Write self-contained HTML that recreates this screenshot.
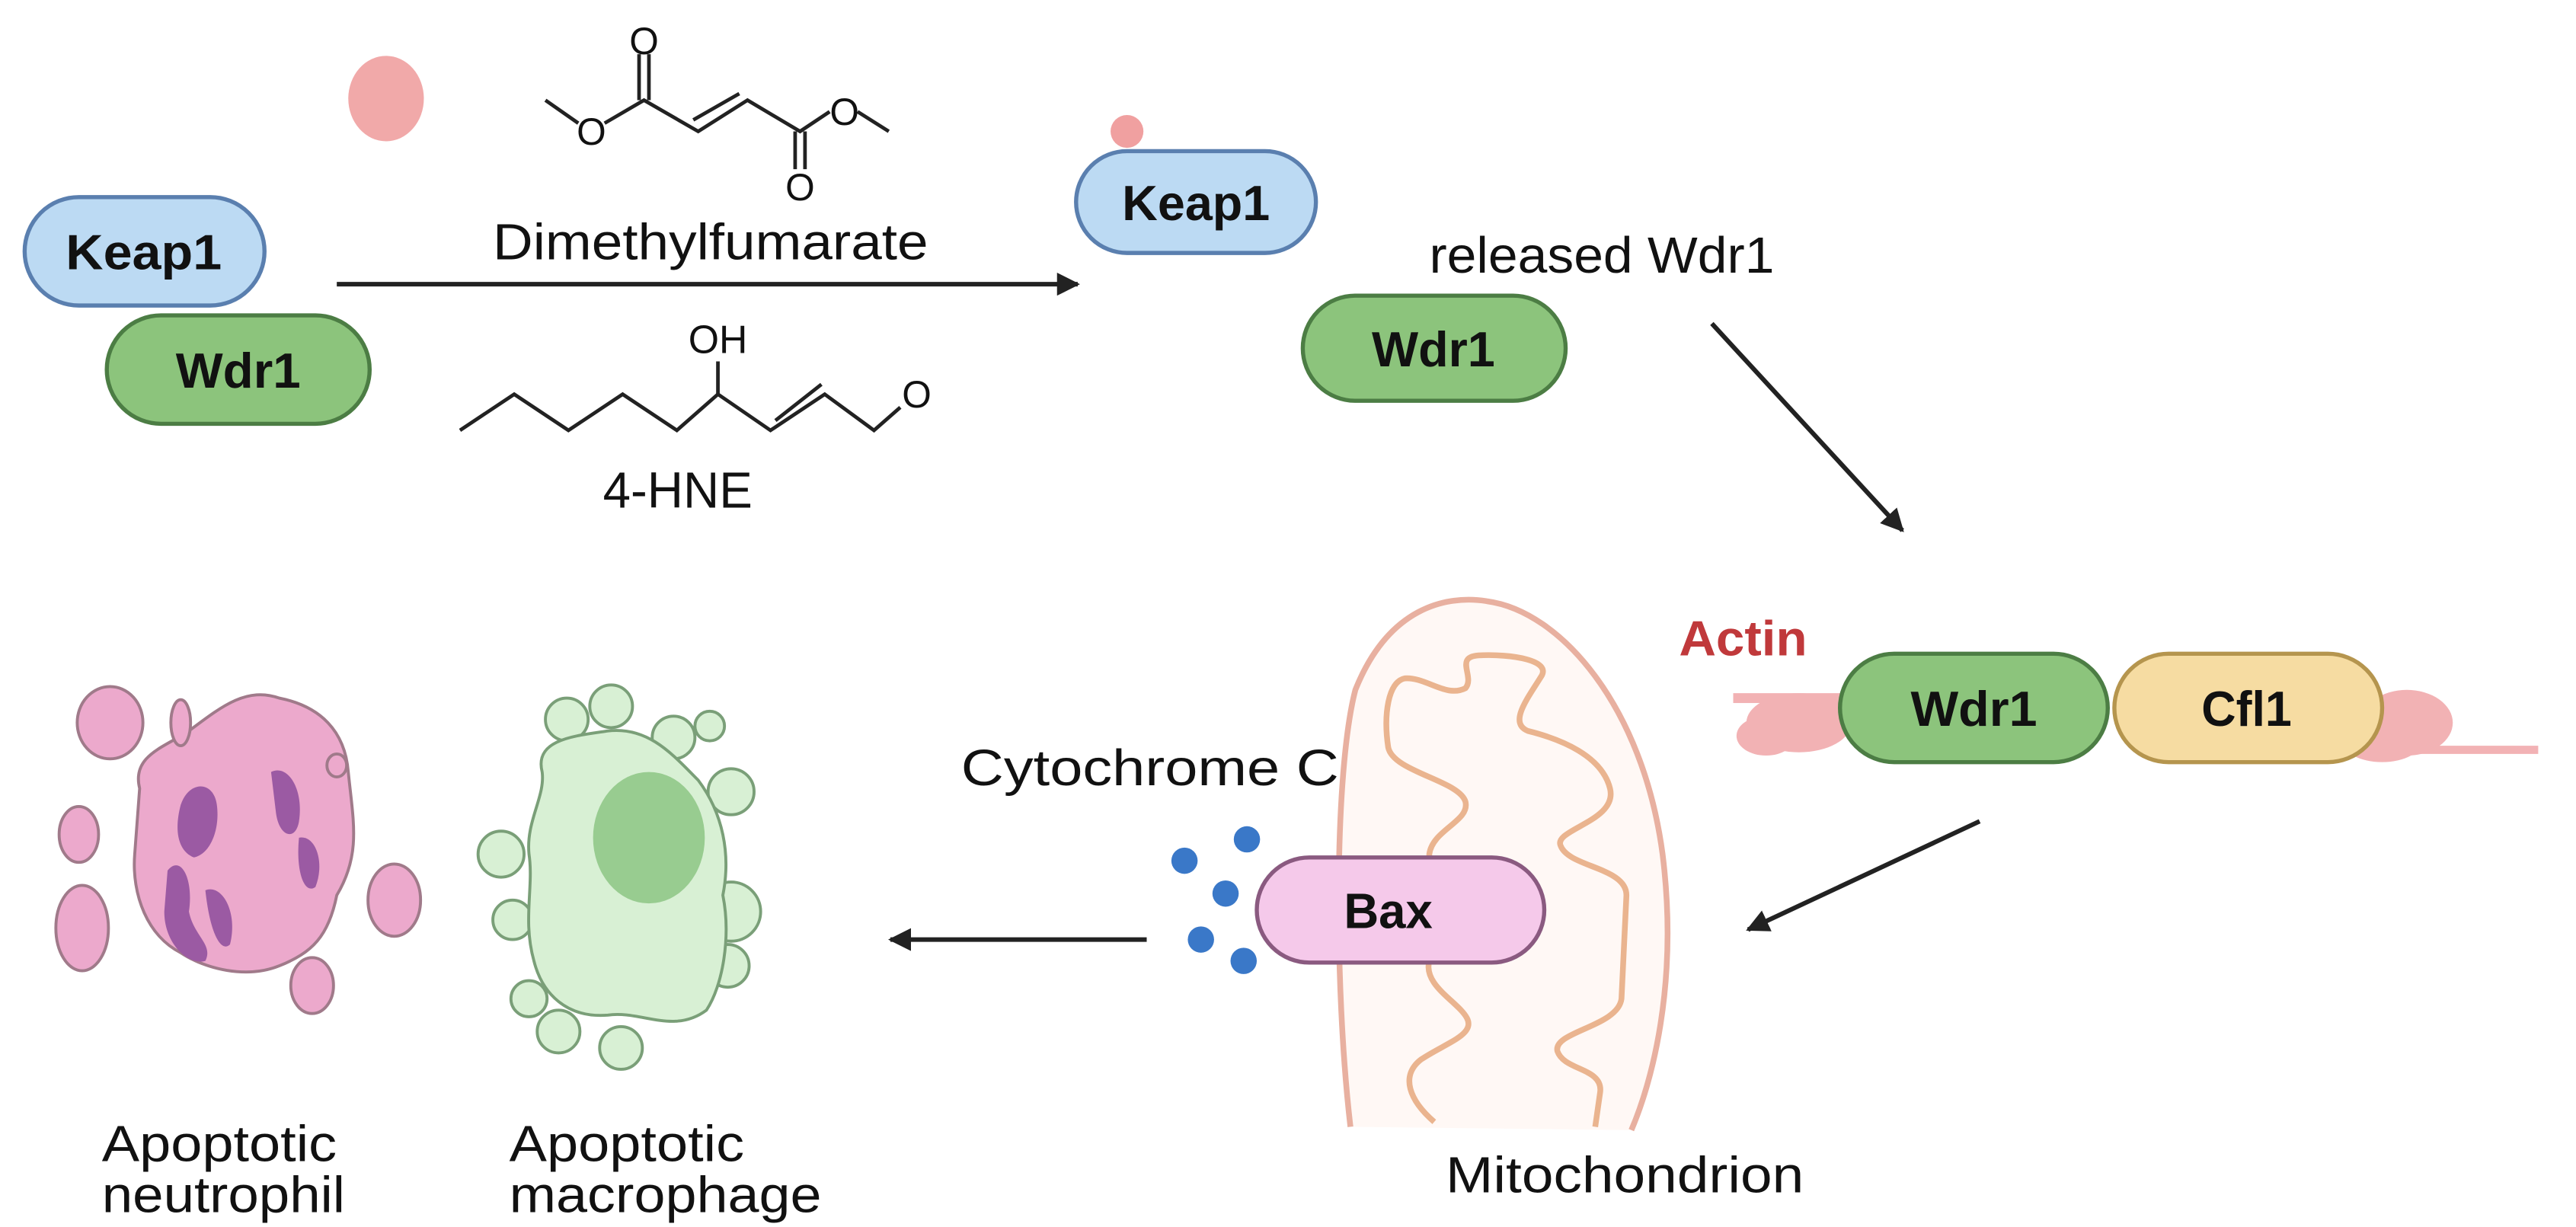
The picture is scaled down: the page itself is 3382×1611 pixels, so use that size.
<!DOCTYPE html>
<html><head><meta charset="utf-8"><style>
html,body{margin:0;padding:0;background:#fff;width:3382px;height:1611px;overflow:hidden}
svg{display:block}
text{font-family:"Liberation Sans",Arial,sans-serif;fill:#111}
</style></head><body>
<svg width="3382" height="1611" viewBox="0 0 1568 747" preserveAspectRatio="none" xmlns="http://www.w3.org/2000/svg">
<defs>
<marker id="ah" viewBox="0 0 10 10" refX="9" refY="5" markerWidth="5" markerHeight="5" orient="auto-start-reverse" markerUnits="strokeWidth"><path d="M0,0 L10,5 L0,10 z" fill="#222"/></marker>
</defs>
<rect width="1568" height="747" fill="#fff"/>

<ellipse cx="235" cy="60" rx="23" ry="26" fill="#f0a0a0" opacity="0.9"/>
<rect x="15" y="120" width="146" height="66" rx="33" fill="#bcdaf3" stroke="#5a7faf" stroke-width="2.5"/>
<text x="40" y="164" font-size="30" font-weight="bold" textLength="95" lengthAdjust="spacingAndGlyphs">Keap1</text>
<rect x="65" y="192" width="160" height="66" rx="33" fill="#8cc47c" stroke="#4c7d44" stroke-width="2.5"/>
<text x="107" y="236" font-size="30" font-weight="bold" textLength="76" lengthAdjust="spacingAndGlyphs">Wdr1</text>

<g stroke="#222" stroke-width="2.2" fill="none">
<polyline points="332,61 352,75"/>
<polyline points="368,75 392,61 425,80 455,61 487,80 505,68"/>
<line x1="422" y1="73" x2="450" y2="57"/>
<line x1="389" y1="61" x2="389" y2="33"/><line x1="395" y1="61" x2="395" y2="33"/>
<line x1="484" y1="80" x2="484" y2="103"/><line x1="490" y1="80" x2="490" y2="103"/>
<line x1="522" y1="68" x2="541" y2="80"/>
</g>
<text x="392" y="33" font-size="23" text-anchor="middle">O</text>
<text x="360" y="88" font-size="23" text-anchor="middle">O</text>
<text x="487" y="122" font-size="23" text-anchor="middle">O</text>
<text x="514" y="76" font-size="23" text-anchor="middle">O</text>
<text x="300" y="158" font-size="31" textLength="265" lengthAdjust="spacingAndGlyphs">Dimethylfumarate</text>

<line x1="205" y1="173" x2="656" y2="173" stroke="#222" stroke-width="2.8" marker-end="url(#ah)"/>

<text x="437" y="215" font-size="24" text-anchor="middle">OH</text>
<g stroke="#222" stroke-width="2.2" fill="none">
<polyline points="280,262 313,240 346,262 379,240 412,262 437,240 469,262 502,240 532,262 548,248"/>
<line x1="437" y1="240" x2="437" y2="220"/>
<line x1="472" y1="256" x2="500" y2="234"/>
</g>
<text x="558" y="248" font-size="23" text-anchor="middle">O</text>
<text x="367" y="309" font-size="31" textLength="91" lengthAdjust="spacingAndGlyphs">4-HNE</text>

<circle cx="686" cy="80" r="10" fill="#f0a0a0"/>
<rect x="655" y="92" width="146" height="62" rx="31" fill="#bcdaf3" stroke="#5a7faf" stroke-width="2.5"/>
<text x="683" y="134" font-size="30" font-weight="bold" textLength="90" lengthAdjust="spacingAndGlyphs">Keap1</text>
<text x="870" y="166" font-size="31" textLength="210" lengthAdjust="spacingAndGlyphs">released Wdr1</text>
<rect x="793" y="180" width="160" height="64" rx="32" fill="#8cc47c" stroke="#4c7d44" stroke-width="2.5"/>
<text x="835" y="223" font-size="30" font-weight="bold" textLength="75" lengthAdjust="spacingAndGlyphs">Wdr1</text>
<line x1="1042" y1="197" x2="1158" y2="323" stroke="#222" stroke-width="2.8" marker-end="url(#ah)"/>

<text x="1022" y="399" font-size="30" font-weight="bold" textLength="78" lengthAdjust="spacingAndGlyphs" style="fill:#c0393b">Actin</text>
<g fill="#f0a5a8" opacity="0.85">
<rect x="1055" y="422" width="70" height="6"/>
<ellipse cx="1095" cy="440" rx="32" ry="18"/>
<ellipse cx="1075" cy="448" rx="18" ry="12"/>
<ellipse cx="1465" cy="440" rx="28" ry="20"/>
<ellipse cx="1450" cy="450" rx="25" ry="14"/>
<rect x="1450" y="454" width="95" height="5"/>
</g>
<rect x="1120" y="398" width="163" height="66" rx="33" fill="#8cc47c" stroke="#4c7d44" stroke-width="2.5"/>
<text x="1163" y="442" font-size="30" font-weight="bold" textLength="77" lengthAdjust="spacingAndGlyphs">Wdr1</text>
<rect x="1287" y="398" width="163" height="66" rx="33" fill="#f6dca2" stroke="#b5954e" stroke-width="2.5"/>
<text x="1340" y="442" font-size="30" font-weight="bold" textLength="55" lengthAdjust="spacingAndGlyphs">Cfl1</text>
<line x1="1205" y1="500" x2="1064" y2="566" stroke="#222" stroke-width="2.8" marker-end="url(#ah)"/>

<path d="M822,686 C812,600 812,470 825,420 C845,370 880,362 905,366 C950,372 1000,430 1012,520 C1022,600 1005,660 993,688 Z" fill="#fff8f5"/>
<path d="M822,686 C812,600 812,470 825,420 C845,370 880,362 905,366 C950,372 1000,430 1012,520 C1022,600 1005,660 993,688" fill="none" stroke="#e8b0a0" stroke-width="3.5"/>
<path d="M873,683 C858,670 852,655 865,645 C880,635 898,630 893,620 C888,610 866,600 870,585 L870,520 C872,505 895,500 892,488 C888,475 848,470 845,455 C842,435 845,415 855,413 C868,412 880,425 892,419 C898,412 885,400 900,399 C920,398 945,402 938,412 C930,425 918,440 930,445 C950,450 975,460 980,480 C985,500 945,505 950,515 C955,528 990,528 990,545 L987,608 C985,625 945,628 948,640 C952,652 976,650 974,665 L971,686" fill="none" stroke="#eab48f" stroke-width="3.5"/>
<text x="880" y="726" font-size="31" textLength="218" lengthAdjust="spacingAndGlyphs">Mitochondrion</text>

<rect x="765" y="522" width="175" height="64" rx="32" fill="#f5c9ea" stroke="#8a5a80" stroke-width="2.5"/>
<text x="818" y="565" font-size="30" font-weight="bold" textLength="54" lengthAdjust="spacingAndGlyphs">Bax</text>

<text x="585" y="478" font-size="31" textLength="230" lengthAdjust="spacingAndGlyphs">Cytochrome C</text>
<g fill="#3a78c8">
<circle cx="721" cy="524" r="8"/><circle cx="759" cy="511" r="8"/><circle cx="746" cy="544" r="8"/><circle cx="731" cy="572" r="8"/><circle cx="757" cy="585" r="8"/>
</g>
<line x1="698" y1="572" x2="542" y2="572" stroke="#222" stroke-width="2.8" marker-end="url(#ah)"/>

<g stroke="#a07a8a" stroke-width="1.8" fill="#eca9cc">
<path d="M85,480 C80,460 100,455 115,445 C135,430 150,418 170,425 C195,430 210,445 212,470 C215,500 220,520 205,545 C200,570 190,580 170,588 C150,596 125,590 110,580 C90,570 80,545 82,520 Z"/>
<ellipse cx="48" cy="508" rx="12" ry="17"/>
<ellipse cx="50" cy="565" rx="16" ry="26"/>
<ellipse cx="67" cy="440" rx="20" ry="22"/>
<ellipse cx="110" cy="440" rx="6" ry="14"/>
<ellipse cx="205" cy="466" rx="6" ry="7"/>
<ellipse cx="240" cy="548" rx="16" ry="22"/>
<ellipse cx="190" cy="600" rx="13" ry="17"/>
</g>
<g fill="#9b5aa3">
<path d="M110,490 C115,475 130,475 132,490 C134,505 128,520 118,522 C108,518 106,505 110,490Z"/>
<path d="M165,470 C175,465 185,480 182,500 C180,512 170,510 168,495Z"/>
<path d="M182,510 C192,508 198,525 192,540 C185,545 180,530 182,510Z"/>
<path d="M102,530 C110,520 118,535 115,555 C118,570 130,575 125,585 C115,588 100,575 100,555Z"/>
<path d="M125,542 C135,538 145,555 140,575 C135,580 128,570 125,542Z"/>
</g>
<g stroke="#7a9f78" stroke-width="1.8" fill="#d8f0d4">
<circle cx="345" cy="438" r="13"/><circle cx="372" cy="430" r="13"/><circle cx="410" cy="449" r="13"/><circle cx="432" cy="442" r="9"/>
<circle cx="445" cy="482" r="14"/><circle cx="305" cy="520" r="14"/><circle cx="312" cy="560" r="12"/><circle cx="445" cy="555" r="18"/><circle cx="443" cy="588" r="13"/>
<circle cx="322" cy="608" r="11"/><circle cx="340" cy="628" r="13"/><circle cx="378" cy="638" r="13"/>
<path d="M330,470 C325,450 350,448 370,445 C395,442 410,460 425,475 C440,495 445,520 440,545 C445,570 440,600 430,615 C410,630 390,615 370,618 C345,620 330,605 325,585 C318,560 325,540 322,520 C320,500 332,485 330,470Z"/>
</g>
<ellipse cx="395" cy="510" rx="34" ry="40" fill="#98cc90"/>

<text x="62" y="707" font-size="31" textLength="143" lengthAdjust="spacingAndGlyphs">Apoptotic</text>
<text x="62" y="738" font-size="31" textLength="148" lengthAdjust="spacingAndGlyphs">neutrophil</text>
<text x="310" y="707" font-size="31" textLength="143" lengthAdjust="spacingAndGlyphs">Apoptotic</text>
<text x="310" y="738" font-size="31" textLength="190" lengthAdjust="spacingAndGlyphs">macrophage</text>
</svg>
</body></html>
